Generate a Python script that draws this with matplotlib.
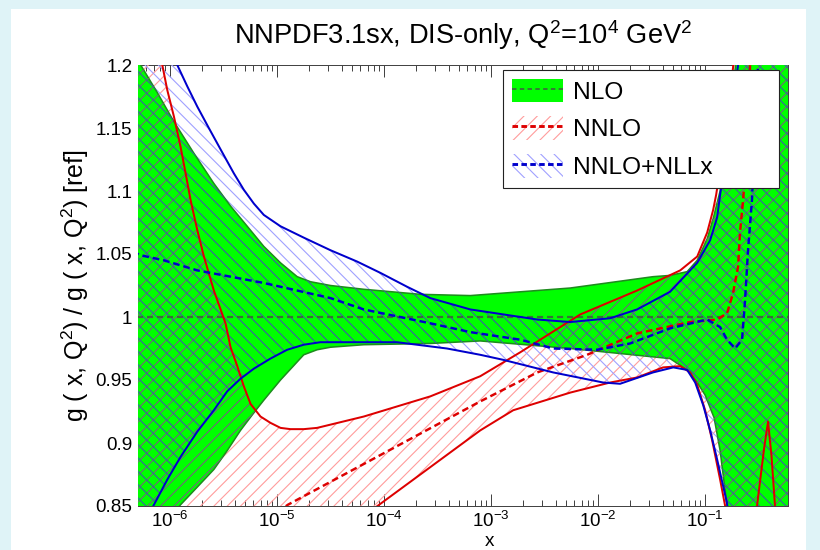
import numpy as np
import matplotlib
matplotlib.use("Agg")
import matplotlib.pyplot as plt
from matplotlib.patches import Polygon, Patch, Rectangle
from matplotlib.lines import Line2D
from matplotlib.ticker import FixedLocator, FuncFormatter, NullFormatter, LogFormatterMathtext

plt.rcParams["font.family"] = ["Liberation Sans", "DejaVu Sans"]
plt.rcParams["mathtext.fontset"] = "custom"
plt.rcParams["mathtext.rm"] = "Liberation Sans"
plt.rcParams["mathtext.it"] = "Liberation Sans:italic"
plt.rcParams["mathtext.bf"] = "Liberation Sans:bold"
plt.rcParams["mathtext.default"] = "regular"
plt.rcParams["hatch.linewidth"] = 1.0
plt.rcParams["lines.scale_dashes"] = False

# ---- gluon ratio g(x,Q^2)/g_ref at Q^2 = 1e4 GeV^2, as (log10 x, ratio) ----
# NLO band
nlo_hi_lx = [-6.40, -6.276, -6.120, -5.965, -5.779, -5.592, -5.436, -5.280, -5.125, -4.969,
             -4.813, -4.689, -4.502, -4.191, -3.662, -3.195, -2.261, -1.487, -1.328, -1.168,
             -1.074, -0.981, -0.925, -0.86, -0.81, -0.715, -0.66, -0.20]
nlo_hi_y = [1.25, 1.200, 1.178, 1.155, 1.130, 1.106, 1.088, 1.072, 1.056, 1.043,
            1.032, 1.028, 1.025, 1.022, 1.018, 1.017, 1.023, 1.032, 1.033, 1.036,
            1.045, 1.062, 1.078, 1.100, 1.133, 1.200, 1.25, 1.25]
nlo_lo_lx = [-6.40, -5.903, -5.747, -5.592, -5.467, -5.343, -5.218, -5.125, -4.969, -4.752,
             -4.627, -4.502, -4.191, -3.569, -3.102, -2.261, -1.328, -1.168, -1.074, -1.0,
             -0.916, -0.86, -0.795, -0.75, -0.20]
nlo_lo_y = [0.80, 0.851, 0.865, 0.879, 0.894, 0.910, 0.924, 0.934, 0.950, 0.970,
            0.974, 0.976, 0.978, 0.979, 0.981, 0.975, 0.967, 0.958, 0.948, 0.938,
            0.920, 0.894, 0.850, 0.80, 0.78]
nlo_c_lx = [-6.40, -0.20]
nlo_c_y = [1.0, 1.0]

# NNLO
nnlo_hi_lx = [-6.40, -6.12, -6.074, -6.027, -5.965, -5.903, -5.856, -5.810, -5.747, -5.685,
              -5.592, -5.483, -5.436, -5.373, -5.312, -5.249, -5.156, -5.063, -4.969, -4.876,
              -4.752, -4.627, -4.191, -3.569, -3.102, -2.728, -2.168, -1.636, -1.233, -1.074,
              -0.981, -0.925, -0.897, -0.832, -0.739, -0.70, -0.20]
nnlo_hi_y = [1.32, 1.23, 1.200, 1.180, 1.159, 1.135, 1.114, 1.093, 1.069, 1.048,
             1.021, 0.995, 0.976, 0.961, 0.945, 0.931, 0.921, 0.916, 0.912, 0.911,
             0.911, 0.912, 0.921, 0.937, 0.953, 0.972, 1.002, 1.021, 1.037, 1.048,
             1.067, 1.085, 1.097, 1.133, 1.198, 1.25, 1.30]
nnlo_lo_lx = [-6.40, -4.063, -3.102, -2.794, -2.261, -1.888, -1.636, -1.393, -1.233, -1.14,
              -1.074, -1.0, -0.934, -0.86, -0.813, -0.75, -0.60, -0.55, -0.515, -0.45,
              -0.412, -0.38, -0.347, -0.32, -0.20]
nnlo_lo_y = [0.70, 0.850, 0.910, 0.926, 0.940, 0.948, 0.952, 0.960, 0.961, 0.956,
             0.946, 0.926, 0.902, 0.871, 0.850, 0.80, 0.78, 0.82, 0.850, 0.895,
             0.917, 0.890, 0.850, 0.82, 0.78]
nnlo_c_lx = [-5.0, -4.90, -3.102, -2.569, -2.103, -1.636, -1.14, -0.888, -0.795, -0.739,
             -0.692, -0.674, -0.645, -0.61, -0.58, -0.56]
nnlo_c_y = [0.845, 0.851, 0.933, 0.956, 0.970, 0.987, 0.996, 0.998, 1.003, 1.019,
            1.040, 1.067, 1.093, 1.133, 1.200, 1.25]

# NNLO+NLLx
nll_hi_lx = [-6.40, -5.934, -5.840, -5.747, -5.639, -5.529, -5.405, -5.312, -5.218, -5.125,
             -4.969, -4.752, -4.502, -4.253, -4.035, -3.786, -3.569, -3.195, -2.569, -2.261,
             -1.888, -1.636, -1.328, -1.074, -0.953, -0.888, -0.86, -0.795, -0.692, -0.65,
             -0.20]
nll_hi_y = [1.28, 1.200, 1.183, 1.167, 1.150, 1.133, 1.114, 1.101, 1.090, 1.081,
            1.072, 1.063, 1.053, 1.044, 1.035, 1.024, 1.015, 1.006, 0.998, 0.996,
            0.999, 1.006, 1.020, 1.043, 1.061, 1.079, 1.097, 1.133, 1.200, 1.25,
            1.30]
nll_lo_lx = [-6.40, -6.152, -6.027, -5.903, -5.747, -5.592, -5.467, -5.343, -5.218, -5.063,
             -4.907, -4.752, -4.596, -4.440, -3.880, -3.413, -3.102, -2.887, -2.420, -1.953,
             -1.795, -1.487, -1.298, -1.168, -1.093, -1.018, -0.953, -0.888, -0.795, -0.75,
             -0.20]
nll_lo_y = [0.81, 0.851, 0.871, 0.889, 0.909, 0.926, 0.941, 0.951, 0.959, 0.967,
            0.974, 0.978, 0.980, 0.980, 0.980, 0.975, 0.970, 0.966, 0.956, 0.948,
            0.947, 0.956, 0.960, 0.958, 0.948, 0.930, 0.910, 0.887, 0.852, 0.82,
            0.78]
nll_c_lx = [-6.35, -6.276, -6.060, -5.747, -5.436, -5.125, -4.813, -4.502, -4.191, -3.569,
            -3.195, -2.728, -2.420, -2.009, -1.701, -1.328, -0.981, -0.860, -0.795, -0.720,
            -0.655, -0.627, -0.599, -0.562, -0.53, -0.505, -0.48]
nll_c_y = [1.052, 1.049, 1.045, 1.037, 1.032, 1.027, 1.021, 1.015, 1.006, 0.995,
           0.988, 0.982, 0.975, 0.974, 0.979, 0.991, 0.998, 0.992, 0.982, 0.975,
           0.982, 1.013, 1.053, 1.093, 1.156, 1.200, 1.25]

labels = ["NLO", "NNLO", "NNLO+NLLx"]
x_ticks = [1e-6, 1e-5, 1e-4, 1e-3, 1e-2, 1e-1]
y_ticks = [0.85, 0.9, 0.95, 1.0, 1.05, 1.1, 1.15, 1.2]

GREEN = "#00FF00"
GREEN_EDGE = "#1E8C1E"
GREEN_DASH = "#3A6E3A"
RED = "#DD0000"
BLUE = "#0000CC"
RED_HATCH = "#FF9C9C"
BLUE_HATCH = "#A0A0FF"
RED_HATCH_DARK = "#6E6A78"
BLUE_HATCH_DARK = "#3A62A0"


def xs(lx):
    return np.power(10.0, np.asarray(lx))


def band_vertices(hlx, hy, llx, ly):
    x = np.concatenate([xs(hlx), xs(llx)[::-1]])
    y = np.concatenate([np.asarray(hy), np.asarray(ly)[::-1]])
    return np.column_stack([x, y])


fig = plt.figure(figsize=(10.25, 6.875), dpi=80)
fig.patch.set_facecolor("#DFF3F7")
fig.add_artist(Rectangle((11 / 820, 0), 795 / 820, 541 / 550, transform=fig.transFigure,
                         facecolor="white", edgecolor="none", zorder=-10))

ax = fig.add_axes([138 / 820, 1 - 506 / 550, 650 / 820, 441 / 550])
ax.set_xscale("log")
ax.set_xlim(5e-7, 0.595)
ax.set_ylim(0.85, 1.2)

# hatched bands (light, on white)
v_nnlo = band_vertices(nnlo_hi_lx, nnlo_hi_y, nnlo_lo_lx, nnlo_lo_y)
v_nll = band_vertices(nll_hi_lx, nll_hi_y, nll_lo_lx, nll_lo_y)
ax.add_patch(Polygon(v_nnlo, closed=True, facecolor="none", edgecolor=RED_HATCH,
                     hatch="//", linewidth=0, zorder=3))
ax.add_patch(Polygon(v_nll, closed=True, facecolor="none", edgecolor=BLUE_HATCH,
                     hatch="\\\\", linewidth=0, zorder=3))

# NLO solid band
v_nlo = band_vertices(nlo_hi_lx, nlo_hi_y, nlo_lo_lx, nlo_lo_y)
green = Polygon(v_nlo, closed=True, facecolor=GREEN, edgecolor="none", zorder=3.1)
ax.add_patch(green)
ax.plot(xs(nlo_hi_lx), nlo_hi_y, color=GREEN_EDGE, lw=1.4, zorder=3.15)
ax.plot(xs(nlo_lo_lx), nlo_lo_y, color=GREEN_EDGE, lw=1.4, zorder=3.15)

# hatching seen through the green band
for verts, col, h in [(v_nnlo, RED_HATCH_DARK, "//"), (v_nll, BLUE_HATCH_DARK, "\\\\")]:
    p = Polygon(verts, closed=True, facecolor="none", edgecolor=col, hatch=h,
                linewidth=0, zorder=3.2)
    ax.add_patch(p)
    p.set_clip_path(green)

# central values and band edges
ax.plot(xs(nlo_c_lx), nlo_c_y, color=GREEN_DASH, lw=2.0, dashes=(5.5, 3.5), zorder=4)
ax.plot(xs(nnlo_hi_lx), nnlo_hi_y, color=RED, lw=1.8, zorder=4.1)
ax.plot(xs(nnlo_lo_lx), nnlo_lo_y, color=RED, lw=1.8, zorder=4.1)
ax.plot(xs(nnlo_c_lx), nnlo_c_y, color=RED, lw=2.2, dashes=(6, 3.5), zorder=4.1)
ax.plot(xs(nll_hi_lx), nll_hi_y, color=BLUE, lw=1.8, zorder=4.2)
ax.plot(xs(nll_lo_lx), nll_lo_y, color=BLUE, lw=1.8, zorder=4.2)
ax.plot(xs(nll_c_lx), nll_c_y, color=BLUE, lw=2.2, dashes=(6, 3.5), zorder=4.2)

# axes styling
for s in ax.spines.values():
    s.set_color("#444444")
    s.set_linewidth(0.9)
minor_x = [m * d for d in x_ticks[:-1] + [1e-7] for m in range(2, 10)
           if 5e-7 <= m * d <= 0.595]
ax.xaxis.set_major_locator(FixedLocator(x_ticks))
ax.xaxis.set_minor_locator(FixedLocator(sorted(minor_x)))
ax.xaxis.set_major_formatter(LogFormatterMathtext())
ax.xaxis.set_minor_formatter(NullFormatter())
ax.set_yticks(y_ticks)
ax.yaxis.set_major_formatter(FuncFormatter(lambda v, p: f"{v:g}"))
ax.tick_params(which="both", direction="in", top=True, right=True, colors="#444444",
               labelcolor="black", width=0.9)
ax.tick_params(which="major", length=10.5, labelsize=17)
ax.tick_params(which="minor", length=5.5)
ax.tick_params(axis="x", which="major", pad=4)
ax.tick_params(axis="y", which="major", pad=5)

ax.set_xlabel("x", fontsize=17)
ax.xaxis.set_label_coords((490 - 138) / 650, -(549.5 - 506) / 441)
ax.xaxis.label.set_va("bottom")
ax.set_ylabel(r"g ( x, Q$^{2}$) / g ( x, Q$^{2}$) [ref]", fontsize=22.5, labelpad=4)
ax.set_title(r"NNPDF3.1sx, DIS-only, Q$^{2}$=10$^{4}$ GeV$^{2}$", fontsize=24.5, pad=19)

# legend
h_nlo = (Patch(facecolor=GREEN, edgecolor="none"),
         Line2D([], [], color=GREEN_DASH, lw=1.6, dashes=(4, 3)))
h_nnlo = (Patch(facecolor="white", edgecolor=RED_HATCH, hatch="//", linewidth=0),
          Line2D([], [], color=RED, lw=2.6, dashes=(5, 3)))
h_nll = (Patch(facecolor="white", edgecolor=BLUE_HATCH, hatch="\\\\", linewidth=0),
         Line2D([], [], color=BLUE, lw=2.6, dashes=(5, 3)))
leg_x0 = (503 - 138) / 650
leg_w = (779 - 503) / 650
leg_top = 1 - 5 / 441
leg = ax.legend([h_nlo, h_nnlo, h_nll], labels, loc="upper left",
                bbox_to_anchor=(leg_x0, leg_top - 0.4, leg_w, 0.4), mode="expand",
                borderaxespad=0, fontsize=22, frameon=True, fancybox=False,
                framealpha=1, edgecolor="#222222", handlelength=2.1, handleheight=1.1,
                handletextpad=0.4, labelspacing=0.52, borderpad=0.35)
leg.get_frame().set_linewidth(1.0)
leg.set_zorder(10)

fig.savefig("out.png", dpi=80, facecolor=fig.get_facecolor())
